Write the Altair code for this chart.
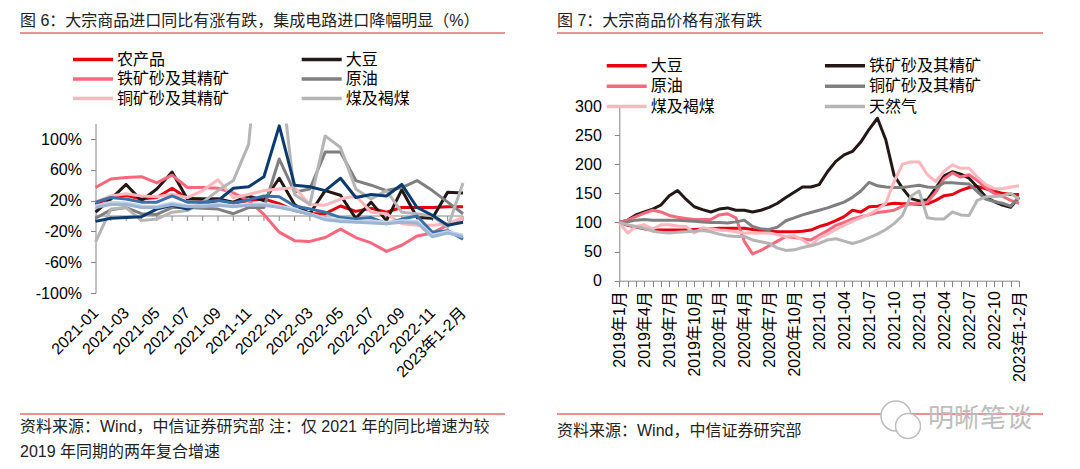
import json
import altair as alt
import pandas as pd

FONT = "Liberation Sans, Noto Sans CJK SC, sans-serif"

# ---------------- 图6 data ----------------
L_MONTHS = ["2021-01", "2021-02", "2021-03", "2021-04", "2021-05", "2021-06",
            "2021-07", "2021-08", "2021-09", "2021-10", "2021-11", "2021-12",
            "2022-01", "2022-02", "2022-03", "2022-04", "2022-05", "2022-06",
            "2022-07", "2022-08", "2022-09", "2022-10", "2022-11", "2022-12",
            "2023年1-2月"]
L_Y_TICKS = [-100, -60, -20, 20, 60, 100]

agri = [15, 24, 27, 22, 24, 36, 23, 22, 22, 17, 20, 22, 16, 7, 3, 3, 13, 6, 10, 5, 11, 11, 11, 12, 12]
soy = [5, 22, 41, 20, 35, 57, 22, 22, 22, 18, 26, 20, 49, 15, 3, 33, 27, -3, 18, -6, 34, -2, -3, 31, 30]
iron = [37, 48, 50, 51, 43, 53, 37, 37, 36, 30, 20, 2, -21, -32, -33, -28, -17, -28, -35, -46, -38, -26, -22, -12, -2]
oil = [-3, 8, 11, 3, 2, 11, 11, 10, 9, 3, 11, 11, 74, 31, 35, 83, 83, 46, 40, 33, 37, 46, 33, 18, 3]
copper = [18, 26, 29, 26, 25, 28, 24, 33, 47, 24, 28, 33, 35, 37, 15, 14, 22, 26, 5, 3, -10, -12, -12, -10, -2]
coal = [-34, 9, 11, -6, -4, 5, 7, 18, 33, 46, 93, 300, 200, 28, 15, 104, 89, 35, 22, 33, 5, 3, 0, -15, 43]
ic_a = [-7, -3, -2, -1, 9, 14, 9, 16, 20, 36, 38, 51, 117, 40, 38, 33, 49, 24, 28, 26, 41, 11, 1, -12, -8]
ic_b = [18, 24, 22, 18, 18, 26, 18, 18, 20, 17, 21, 26, 25, 13, 9, 5, -2, -4, -2, -10, -4, 0, -21, -19, -30]
ic_c = [13, 18, 17, 13, 12, 17, 13, 14, 15, 13, 15, 16, 13, 9, 3, -3, -5, -7, -6, -8, -6, -7, -25, -20, -25]
ic_d = [11, 15, 15, 11, 11, 15, 12, 12, 14, 12, 14, 14, 11, 7, 2, -5, -7, -8, -9, -10, -8, -9, -27, -22, -27]

L_SERIES = [  # (name, values, colour, in legend)
    ("农产品", agri, "#E60012", True),
    ("大豆", soy, "#231815", True),
    ("铁矿砂及其精矿", iron, "#F8687C", True),
    ("原油", oil, "#7F7F7F", True),
    ("铜矿砂及其精矿", copper, "#FFB6BC", True),
    ("煤及褐煤", coal, "#B5B5B5", True),
    ("集成电路", ic_a, "#0B3A6E", False),
    ("系列8", ic_b, "#3A70AA", False),
    ("系列9", ic_c, "#C3D2E6", False),
    ("系列10", ic_d, "#9DB5D4", False),
]

# ---------------- 图7 data ----------------
R_MONTHS = ([f"2019年{m}月" for m in range(1, 13)] + [f"2020年{m}月" for m in range(1, 13)]
            + [f"2021-{m:02d}" for m in range(1, 13)] + [f"2022-{m:02d}" for m in range(1, 13)]
            + ["2023年1-2月"])
R_Y_TICKS = [0, 50, 100, 150, 200, 250, 300]

soy_r = [100, 95, 92, 89, 87, 87, 87, 87, 87, 88, 89, 89, 90, 90, 90, 90, 88, 86, 85, 84,
         84, 84, 85, 87, 93, 97, 103, 110, 121, 118, 127, 128, 131, 133, 132, 132, 131, 132, 138, 146,
         148, 155, 160, 162, 158, 154, 150, 148, 148]
iron_r = [100, 104, 113, 118, 123, 130, 146, 155, 140, 127, 122, 118, 123, 125, 121, 121, 118, 121, 126, 133,
          143, 152, 161, 161, 165, 187, 205, 216, 222, 238, 260, 279, 242, 181, 159, 141, 137, 139, 159, 180,
          187, 183, 176, 161, 144, 136, 130, 126, 143]
oil_r = [100, 104, 110, 116, 121, 118, 112, 109, 107, 105, 105, 105, 113, 115, 108, 68, 46, 52, 60, 68,
         76, 74, 72, 70, 78, 86, 95, 100, 106, 110, 113, 117, 119, 121, 128, 132, 132, 135, 152, 175,
         185, 178, 182, 172, 160, 150, 145, 138, 133]
copper_r = [100, 101, 104, 105, 104, 104, 104, 104, 103, 102, 101, 100, 100, 99, 101, 104, 93, 89, 88, 92,
            103, 108, 113, 117, 121, 125, 130, 135, 143, 154, 169, 163, 161, 160, 160, 162, 164, 161, 160, 168,
            168, 167, 166, 153, 140, 136, 133, 128, 144]
coal_r = [100, 82, 93, 96, 89, 96, 96, 94, 93, 82, 91, 89, 87, 86, 84, 82, 82, 82, 82, 79,
          76, 77, 70, 60, 74, 80, 88, 95, 102, 108, 114, 122, 133, 170, 200, 204, 204, 182, 170, 188,
          199, 193, 193, 178, 165, 158, 158, 161, 163]
gas_r = [100, 96, 93, 90, 85, 83, 82, 83, 84, 85, 86, 84, 80, 77, 76, 76, 70, 67, 64, 56,
         52, 53, 57, 60, 64, 70, 72, 68, 64, 68, 74, 80, 88, 98, 112, 145, 154, 108, 106, 106,
         118, 113, 112, 138, 144, 144, 146, 150, 140]

R_SERIES = [
    ("大豆", soy_r, "#E60012"),
    ("铁矿砂及其精矿", iron_r, "#231815"),
    ("原油", oil_r, "#F8687C"),
    ("铜矿砂及其精矿", copper_r, "#7F7F7F"),
    ("煤及褐煤", coal_r, "#FFB6BC"),
    ("天然气", gas_r, "#B5B5B5"),
]

# ---------------- layout (page pixels -> chart pixels) ----------------
W, H = 1064, 453
def px(x): return x - 8
def py(y): return y - 8

AXC = "#868686"

LX = alt.Scale(domain=[0, len(L_MONTHS) - 1], range=[px(95.5), px(463)], nice=False, zero=False)
LY = alt.Scale(domain=[-100, 120], range=[py(293), py(123.6)], nice=False, zero=False)
RX = alt.Scale(domain=[0, len(R_MONTHS) - 1], range=[px(619.3), px(1019)], nice=False, zero=False)
RY = alt.Scale(domain=[0, 300], range=[py(280.7), py(106)], nice=False, zero=False)

lab = dict(labelFont=FONT, labelFontSize=16, labelColor="#000000", title=None, grid=False,
           labelOverlap=False, labelFlush=False)

LXA = alt.Axis(orient="bottom", values=list(range(0, len(L_MONTHS), 2)),
               labelExpr=json.dumps(L_MONTHS, ensure_ascii=False) + "[datum.value]",
               labelAngle=-45, labelAlign="right", labelBaseline="middle", labelPadding=17,
               ticks=False, tickSize=0, domain=False, offset=py(293) - H, **lab)
LYA = alt.Axis(orient="left", values=L_Y_TICKS, labelExpr="datum.value + '%'",
               tickSize=5, tickColor=AXC, domainColor=AXC, labelPadding=9,
               offset=-px(95.5), **lab)
RXA = alt.Axis(orient="bottom", values=list(range(len(R_MONTHS))),
               labelExpr="datum.value % 3 == 0 ? " + json.dumps(R_MONTHS, ensure_ascii=False)
               + "[datum.value] : ''",
               labelAngle=-90, labelAlign="right", labelBaseline="middle", labelPadding=4,
               tickSize=6, tickColor=AXC, domainColor=AXC, offset=py(280.7) - H, **lab)
RYA = alt.Axis(orient="left", values=R_Y_TICKS, tickSize=5, tickColor=AXC, domainColor=AXC,
               labelPadding=13, offset=-px(619.3), **lab)


def line(vals, color, xs, ys, xa, ya, width=3):
    df = pd.DataFrame({"i": list(range(len(vals))), "v": vals})
    return alt.Chart(df).mark_line(color=color, strokeWidth=width, strokeJoin="round").encode(
        x=alt.X("i:Q", scale=xs, axis=xa), y=alt.Y("v:Q", scale=ys, axis=ya))


idx_l = pd.DataFrame({"i": list(range(len(L_MONTHS)))})
zero_line = alt.Chart(idx_l).mark_line(color=AXC, strokeWidth=1).encode(
    x=alt.X("i:Q", scale=LX, axis=LXA),
    y=alt.YDatum(0, type="quantitative", scale=LY, axis=LYA))
zero_ticks = alt.Chart(idx_l).mark_rule(color=AXC, strokeWidth=1).encode(
    x=alt.X("i:Q", scale=LX, axis=LXA),
    y=alt.YDatum(0, type="quantitative", scale=LY, axis=LYA),
    y2=alt.Y2Datum(-6.5))
mask = alt.Chart(pd.DataFrame({"a": [0], "b": [len(L_MONTHS) - 1]})).mark_rect(color="white").encode(
    x=alt.X("a:Q", scale=LX, axis=LXA), x2="b:Q",
    y=alt.YDatum(120, type="quantitative", scale=LY, axis=LYA), y2=alt.value(0))

left_lines = [line(v, c, LX, LY, LXA, LYA) for (_, v, c, _) in L_SERIES]
left = alt.layer(zero_line, zero_ticks, *left_lines, mask)

right_lines = [line(v, c, RX, RY, RXA, RYA) for (_, v, c) in R_SERIES]
right = alt.layer(*right_lines)

# ---------------- legends ----------------
def legend_df(entries, col_x, row_y, per_col=3):
    rows = []
    for k, (name, color) in enumerate(entries):
        c, r = divmod(k, per_col)
        x0 = col_x[c]
        rows.append({"name": name, "color": color, "x0": px(x0), "x1": px(x0 + 40),
                     "xt": px(x0 + 44), "y": py(row_y[r])})
    return pd.DataFrame(rows)

l_leg_entries = [(n, c) for (n, _, c, show) in L_SERIES if show]
l_leg_entries = [l_leg_entries[i] for i in (0, 2, 4, 1, 3, 5)]
r_leg_entries = [(n, c) for (n, _, c) in R_SERIES]
r_leg_entries = [r_leg_entries[i] for i in (0, 2, 4, 1, 3, 5)]
leg = pd.concat([legend_df(l_leg_entries, [73, 301.7], [59.5, 79, 98.5]),
                 legend_df(r_leg_entries, [606.7, 825], [65.7, 86.2, 106.5])])

noscale = dict(scale=None, axis=None)
leg_rules = alt.Chart(leg).mark_rule(strokeWidth=3.5).encode(
    x=alt.X("x0:Q", **noscale), x2="x1:Q", y=alt.Y("y:Q", **noscale),
    color=alt.Color("color:N", scale=None, legend=None))
leg_text = alt.Chart(leg).mark_text(align="left", baseline="middle", font=FONT, fontSize=16,
                                    color="#000000").encode(
    x=alt.X("xt:Q", **noscale), y=alt.Y("y:Q", **noscale), text="name:N")

# ---------------- titles, sources, rules ----------------
titles = pd.DataFrame({
    "t": ["图 6：大宗商品进口同比有涨有跌，集成电路进口降幅明显（%）", "图 7：大宗商品价格有涨有跌"],
    "x": [px(20), px(557)], "y": [py(21), py(21)]})
sources = pd.DataFrame({
    "t": ["资料来源：Wind，中信证券研究部  注：仅 2021 年的同比增速为较",
          "2019 年同期的两年复合增速", "资料来源：Wind，中信证券研究部"],
    "x": [px(20), px(20), px(557)], "y": [py(426.5), py(452), py(431)]})
top_rules = pd.DataFrame({"x0": [px(20), px(557)], "x1": [px(505), px(1043)], "y": [py(33), py(33)]})
bot_rules = pd.DataFrame({"x0": [px(20), px(557)], "x1": [px(505), px(1043)], "y": [py(414), py(414)]})

title_text = alt.Chart(titles).mark_text(align="left", baseline="middle", font=FONT, fontSize=16,
                                         color="#222222").encode(
    x=alt.X("x:Q", **noscale), y=alt.Y("y:Q", **noscale), text="t:N")
source_text = alt.Chart(sources).mark_text(align="left", baseline="middle", font=FONT, fontSize=16,
                                           color="#222222").encode(
    x=alt.X("x:Q", **noscale), y=alt.Y("y:Q", **noscale), text="t:N")
top_rule = alt.Chart(top_rules).mark_rule(color="#E07070", strokeWidth=1.5).encode(
    x=alt.X("x0:Q", **noscale), x2="x1:Q", y=alt.Y("y:Q", **noscale))
bot_rule = alt.Chart(bot_rules).mark_rule(color="#E02020", strokeWidth=1).encode(
    x=alt.X("x0:Q", **noscale), x2="x1:Q", y=alt.Y("y:Q", **noscale))

# watermark
wm_icon = alt.Chart(pd.DataFrame({"x": [px(896), px(908)], "y": [py(416), py(426)],
                                  "s": [900, 620]})).mark_point(
    shape="circle", filled=True, fill="white", stroke="#BDBDBD", strokeWidth=1.5, opacity=1).encode(
    x=alt.X("x:Q", **noscale), y=alt.Y("y:Q", **noscale),
    size=alt.Size("s:Q", scale=None, legend=None))
wm_text = alt.Chart(pd.DataFrame({"t": ["明晰笔谈"], "x": [px(928)], "y": [py(419)]})).mark_text(
    align="left", baseline="middle", font=FONT, fontSize=26, color="#BDBDBD").encode(
    x=alt.X("x:Q", **noscale), y=alt.Y("y:Q", **noscale), text="t:N")

chart = alt.layer(left, right, top_rule, bot_rule, title_text, source_text,
                  leg_rules, leg_text, wm_icon, wm_text).resolve_scale(
    x="independent", y="independent").properties(
    width=W, height=H, padding=0, autosize=alt.AutoSizeParams(type="none"),
    background="white").configure_view(stroke=None)

chart.save("out.html", embed_options={"renderer": "svg", "actions": False})
